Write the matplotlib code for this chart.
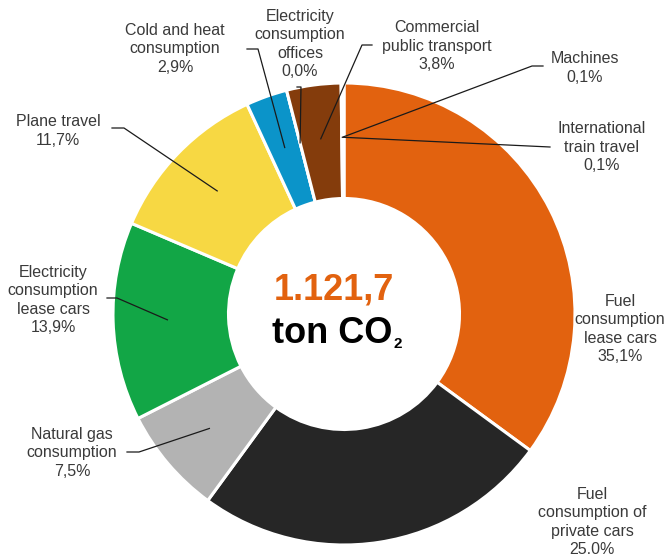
import matplotlib.pyplot as plt
import numpy as np

plt.rcParams['font.family'] = ['Liberation Sans', 'DejaVu Sans']

# data, clockwise from 12 o'clock
labels = ['Fuel\nconsumption\nlease cars', 'Fuel\nconsumption of\nprivate cars',
          'Natural gas\nconsumption', 'Electricity\nconsumption\nlease cars',
          'Plane travel', 'Cold and heat\nconsumption', 'Electricity\nconsumption\noffices',
          'Commercial\npublic transport', 'Machines', 'International\ntrain travel']
shares = [35.1, 25.0, 7.5, 13.9, 11.7, 2.9, 0.0, 3.8, 0.1, 0.1]
pct_text = ['35,1%', '25.0%', '7,5%', '13,9%', '11,7%', '2,9%', '0,0%', '3,8%', '0,1%', '0,1%']
colors = ['#E2620F', '#262626', '#B3B3B3', '#12A646', '#F7D843', '#0B94C9',
          '#7F7F7F', '#843C0C', '#A9C99A', '#BFBFBF']
total = '1.121,7'

# label layout in pixels of the 667x555 picture (text centre, elbow, end of leader)
text_pos = [(620, 329), (592, 522), (72, 453), (53, 300), (58, 131),
            (175, 49), (300, 44), (437, 46), (585, 68), (602, 147)]
elbow = [None, None, (139, 452), (117, 298), (124, 128),
         (258, 49), (301, 87), (362, 45), (532, 66), (550, 147)]
line_end = [None, None, (127, 452), (107, 298), (112, 128),
            (247, 49), (297, 87), (372, 45), (543, 66), (550, 147)]

CX, CY, R = 344, 314, 231


def px(x, y):
    return (x - CX) / R, (CY - y) / R


fig = plt.figure(figsize=(6.67, 5.55), dpi=100)
ax = fig.add_axes([0, 0, 1, 1])

wedges, _ = ax.pie(shares, colors=colors, startangle=90, counterclock=False,
                   radius=1, wedgeprops=dict(width=0.5, edgecolor='white', linewidth=2.2))

# pie() resets the limits, so set them afterwards
ax.set_xlim(-CX / R, (667 - CX) / R)
ax.set_ylim((CY - 555) / R, CY / R)
ax.set_aspect('equal')
ax.axis('off')

for i, w in enumerate(wedges):
    mid = np.deg2rad((w.theta1 + w.theta2) / 2)
    ax_x, ax_y = 0.765 * np.cos(mid), 0.765 * np.sin(mid)
    if elbow[i] is not None:
        ex, ey = px(*elbow[i])
        lx, ly = px(*line_end[i])
        ax.plot([ax_x, ex, lx], [ax_y, ey, ly], color='#1a1a1a', lw=0.9, zorder=5)
    tx, ty = px(*text_pos[i])
    ax.text(tx, ty, labels[i] + '\n' + pct_text[i], ha='center', va='center',
            fontsize=11.5, color='#3a3a3a', linespacing=1.27)

ax.text(*px(334, 290), total, ha='center', va='center', fontsize=26,
        fontweight='bold', color='#E2620F')
ax.text(*px(392, 343), 'ton CO', ha='right', va='baseline', fontsize=26,
        fontweight='bold', color='black')
ax.text(*px(393, 348), '2', ha='left', va='baseline', fontsize=11,
        fontweight='bold', color='black')

plt.savefig('out.png', dpi=100)
